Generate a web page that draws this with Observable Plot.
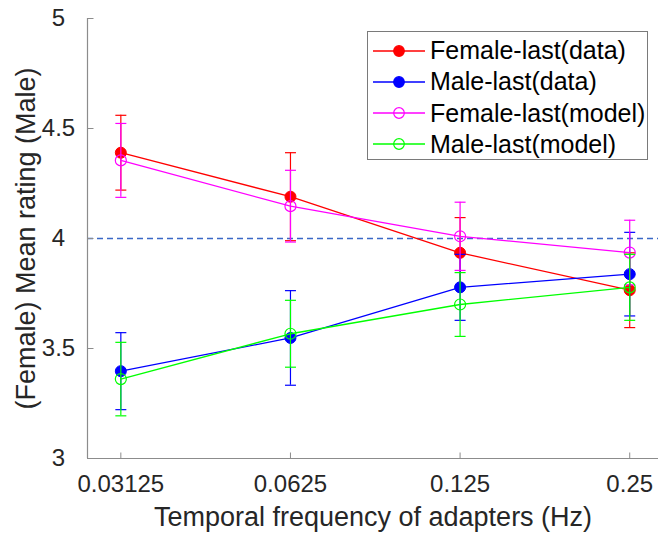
<!DOCTYPE html>
<html>
<head>
<meta charset="utf-8">
<script src="https://cdn.jsdelivr.net/npm/d3@7"></script>
<script src="https://cdn.jsdelivr.net/npm/@observablehq/plot@0.6"></script>
<style>
  html, body { margin: 0; padding: 0; background: #fff; }
  #wrap { position: relative; width: 661px; height: 533px; font-family: "Liberation Sans", Arial, sans-serif; }
  #legend { position: absolute; left: 367px; top: 31px; width: 279px; height: 127px; border: 1px solid #7a7a7a; background: #fff; box-sizing: content-box; }
  .row { position: absolute; left: 0; height: 31px; display: flex; align-items: center; font-size: 25px; color: #000; white-space: nowrap; }
  .row svg { display: block; margin-left: 5px; margin-right: 5px; }
</style>
</head>
<body>
<div id="wrap"></div>
<script>
const freqs = [0.03125, 0.0625, 0.125, 0.25];
const freqLabels = ["0.03125", "0.0625", "0.125", "0.25"];
const yTicks = [3, 3.5, 4, 4.5, 5];
const yTickLabels = ["3", "3.5", "4", "4.5", "5"];

const seriesNames = ["Female-last(data)", "Male-last(data)", "Female-last(model)", "Male-last(model)"];
const seriesColors = ["#ff0000", "#0000ff", "#ff00ff", "#00ff00"];
const seriesFilled = [true, true, false, false];

const femaleData = [4.39, 4.19, 3.935, 3.765];
const femaleDataErr = [0.17, 0.20, 0.16, 0.17];
const maleData = [3.397, 3.548, 3.778, 3.838];
const maleDataErr = [0.175, 0.215, 0.15, 0.19];
const femaleModel = [4.355, 4.147, 4.01, 3.936];
const femaleModelErr = [0.168, 0.163, 0.155, 0.147];
const maleModel = [3.361, 3.567, 3.70, 3.778];
const maleModelErr = [0.167, 0.152, 0.145, 0.15];

const referenceLevel = 4;
const xDomain = [0.02727, 0.2812];
const yDomain = [3, 5];
const xTitle = "Temporal frequency of adapters (Hz)";
const yTitle = "(Female) Mean rating (Male)";

const means = [femaleData, maleData, femaleModel, maleModel];
const errs = [femaleDataErr, maleDataErr, femaleModelErr, maleModelErr];

const rows = [];
means.forEach((vals, s) => vals.forEach((v, i) => rows.push({
  series: seriesNames[s], color: seriesColors[s], filled: seriesFilled[s],
  x: freqs[i], y: v, lo: v - errs[s][i], hi: v + errs[s][i]
})));

const hline = { draw(ctx, size) { const w = Math.sqrt(size / Math.PI); ctx.moveTo(-w, 0); ctx.lineTo(w, 0); } };
const vline = { draw(ctx, size) { const w = Math.sqrt(size / Math.PI); ctx.moveTo(0, -w); ctx.lineTo(0, w); } };

const font = "Liberation Sans, Arial, sans-serif";
const textColor = "#262626";
const axisColor = "#8c8c8c";

const marks = [
  Plot.ruleY([referenceLevel], {stroke: "#3a68c6", strokeWidth: 1.5, strokeDasharray: "6,4"}),
  Plot.ruleY([yDomain[0]], {stroke: axisColor, strokeWidth: 1.2}),
  Plot.ruleX([xDomain[0]], {stroke: axisColor, strokeWidth: 1.2}),
  Plot.dot(yTicks, {y: d => d, frameAnchor: "left", symbol: hline, r: 3, dx: 3, stroke: axisColor, strokeWidth: 1}),
  Plot.dot(freqs, {x: d => d, frameAnchor: "bottom", symbol: vline, r: 3, dy: -3, stroke: axisColor, strokeWidth: 1}),
  Plot.text(yTicks, {y: d => d, text: (d, i) => yTickLabels[i], frameAnchor: "left", dx: -29, textAnchor: "middle", fontSize: 24, fill: textColor, fontFamily: font}),
  Plot.text(freqs, {x: d => d, text: (d, i) => freqLabels[i], frameAnchor: "bottom", dy: 26, textAnchor: "middle", lineAnchor: "middle", fontSize: 24, fill: textColor, fontFamily: font}),
  Plot.text([xTitle], {text: d => d, frameAnchor: "bottom", dy: 59, textAnchor: "middle", lineAnchor: "middle", fontSize: 27, fill: textColor, fontFamily: font}),
  Plot.text([yTitle], {text: d => d, frameAnchor: "left", dx: -61, rotate: -90, textAnchor: "middle", lineAnchor: "middle", fontSize: 27, fill: textColor, fontFamily: font})
];

seriesNames.forEach((name, s) => {
  const d = rows.filter(r => r.series === name);
  const c = seriesColors[s];
  marks.push(
    Plot.line(d, {x: "x", y: "y", stroke: c, strokeWidth: 1.3}),
    Plot.ruleX(d, {x: "x", y1: "lo", y2: "hi", stroke: c, strokeWidth: 1.2}),
    Plot.dot(d, {x: "x", y: "lo", symbol: hline, r: 5.5, stroke: c, strokeWidth: 1.2}),
    Plot.dot(d, {x: "x", y: "hi", symbol: hline, r: 5.5, stroke: c, strokeWidth: 1.2}),
    seriesFilled[s]
      ? Plot.dot(d, {x: "x", y: "y", r: 5.5, fill: c, stroke: c, strokeWidth: 1})
      : Plot.dot(d, {x: "x", y: "y", r: 5.5, fill: "none", stroke: c, strokeWidth: 1.2})
  );
});

const chart = Plot.plot({
  width: 661,
  height: 533,
  marginLeft: 87,
  marginRight: 3,
  marginTop: 18,
  marginBottom: 75,
  style: {background: "#fff", fontFamily: font, overflow: "visible"},
  x: {type: "log", base: 2, domain: xDomain, axis: null},
  y: {domain: yDomain, axis: null},
  marks
});

const wrap = document.getElementById("wrap");
wrap.appendChild(chart);

const legend = document.createElement("div");
legend.id = "legend";
seriesNames.forEach((name, s) => {
  const row = document.createElement("div");
  row.className = "row";
  row.style.top = (3 + s * 31.3) + "px";
  const c = seriesColors[s];
  row.innerHTML = `<svg width="52" height="14"><line x1="0" x2="52" y1="7" y2="7" stroke="${c}" stroke-width="1.3"/>` +
    `<circle cx="26" cy="7" r="5.3" fill="${seriesFilled[s] ? c : "none"}" stroke="${c}" stroke-width="1.2"/></svg>` +
    `<span>${name}</span>`;
  legend.appendChild(row);
});
wrap.appendChild(legend);
</script>
</body>
</html>
